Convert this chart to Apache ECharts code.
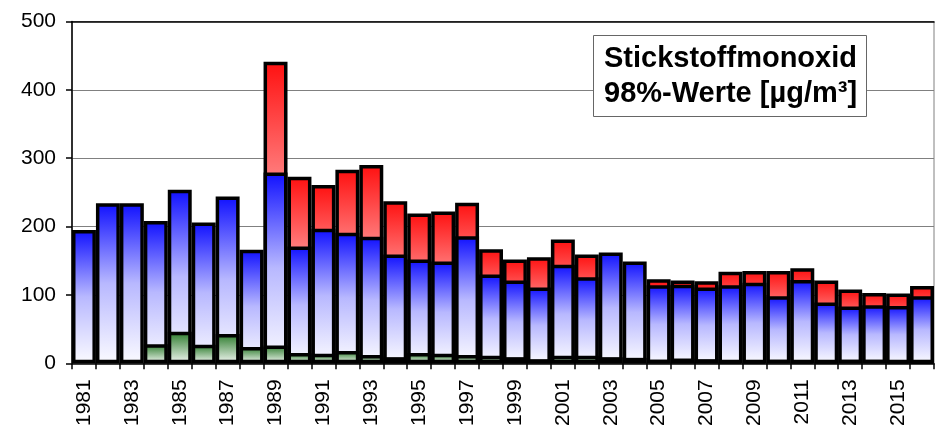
<!DOCTYPE html>
<html><head><meta charset="utf-8">
<script src="https://cdn.jsdelivr.net/npm/echarts@6/dist/echarts.min.js"></script>
<style>html,body{margin:0;padding:0;background:#fff}#c{width:944px;height:437px}</style>
</head><body><div id="c"></div>
<script>
const years = ['1981','1982','1983','1984','1985','1986','1987','1988','1989','1990','1991','1992','1993','1994','1995','1996','1997','1998','1999','2000','2001','2002','2003','2004','2005','2006','2007','2008','2009','2010','2011','2012','2013','2014','2015','2016'];
const redVals = [null,null,null,null,null,null,null,null,441,273,261,283,290,237,219,222,235,167,152,155,181,159,null,null,123,121,120,134,135,135,139,121,108,103,102,113];
const blueVals = [195,234,234,208,254,206,244,166,279,171,197,191,185,159,152,149,186,130,121,111,144,126,162,149,114,115,111,114,118,98,122,89,83,85,84,98];
const greenVals = [null,null,null,28,46,27,43,24,26,15,14,18,12,9,15,14,12,11,9,6,11,11,9,8,5,7,6,4,4,5,4,4,5,5,4,3];
const yTicks = [0,100,200,300,400,500];

const chart = echarts.init(document.getElementById('c'), null, {renderer:'canvas'});
const grad = (stops) => new echarts.graphic.LinearGradient(0,0,0,1, stops.map(s=>({offset:s[0], color:s[1]})));
const font = '"Liberation Sans", Arial, sans-serif';
const barBase = {type:'bar', barGap:'-100%', barCategoryGap:'0%', animation:false};
chart.setOption({
  animation:false,
  title:{text:'Stickstoffmonoxid\n98%-Werte [µg/m³]', left:593, top:35, padding:[6,10,6,11],
    backgroundColor:'#fff', borderColor:'#666', borderWidth:1,
    textStyle:{fontFamily:font, fontSize:29, fontWeight:'bold', color:'#000', lineHeight:35}},
  grid:{left:72, right:10, top:21.5, bottom:73.7, show:true, borderColor:'#808080', borderWidth:1, backgroundColor:'transparent'},
  xAxis:[{type:'category', data:years, boundaryGap:true,
    axisLine:{lineStyle:{color:'#000', width:1.5}},
    axisTick:{show:true, interval:0, length:6, lineStyle:{color:'#000', width:1.5}},
    axisLabel:{interval:1, rotate:90, margin:16, fontFamily:font, fontSize:21, color:'#000'}},
    {type:'category', data:years, position:'top', axisLine:{show:true, lineStyle:{color:'#000', width:1.5}},
     axisTick:{show:false}, axisLabel:{show:false}}],
  yAxis:{type:'value', min:0, max:500, interval:100,
    axisLine:{show:true, lineStyle:{color:'#000', width:1.5}},
    axisTick:{show:true, length:6, lineStyle:{color:'#000', width:1.5}},
    axisLabel:{margin:16, fontFamily:font, fontSize:21, color:'#000',
      formatter:(v)=> yTicks.includes(v) ? String(v) : ''},
    splitLine:{show:true, lineStyle:{color:'#808080', width:1.2}}},
  series:[
    Object.assign({}, barBase, {name:'max', data:redVals, z:2,
      itemStyle:{borderColor:'#000', borderWidth:3.5, color:grad([[0,'#ff1010'],[0.45,'#ff9090'],[1,'#ffffff']])}}),
    Object.assign({}, barBase, {name:'mid', data:blueVals, z:3,
      itemStyle:{borderColor:'#000', borderWidth:3.5, color:grad([[0,'#1010ff'],[0.5,'#b8b8ff'],[1,'#fbfbff']])}}),
    Object.assign({}, barBase, {name:'min', data:greenVals, z:4,
      itemStyle:{borderColor:'#000', borderWidth:3.5, color:grad([[0,'#2a7a2a'],[1,'#f4f8f4']])}})
  ]
});
</script></body></html>
